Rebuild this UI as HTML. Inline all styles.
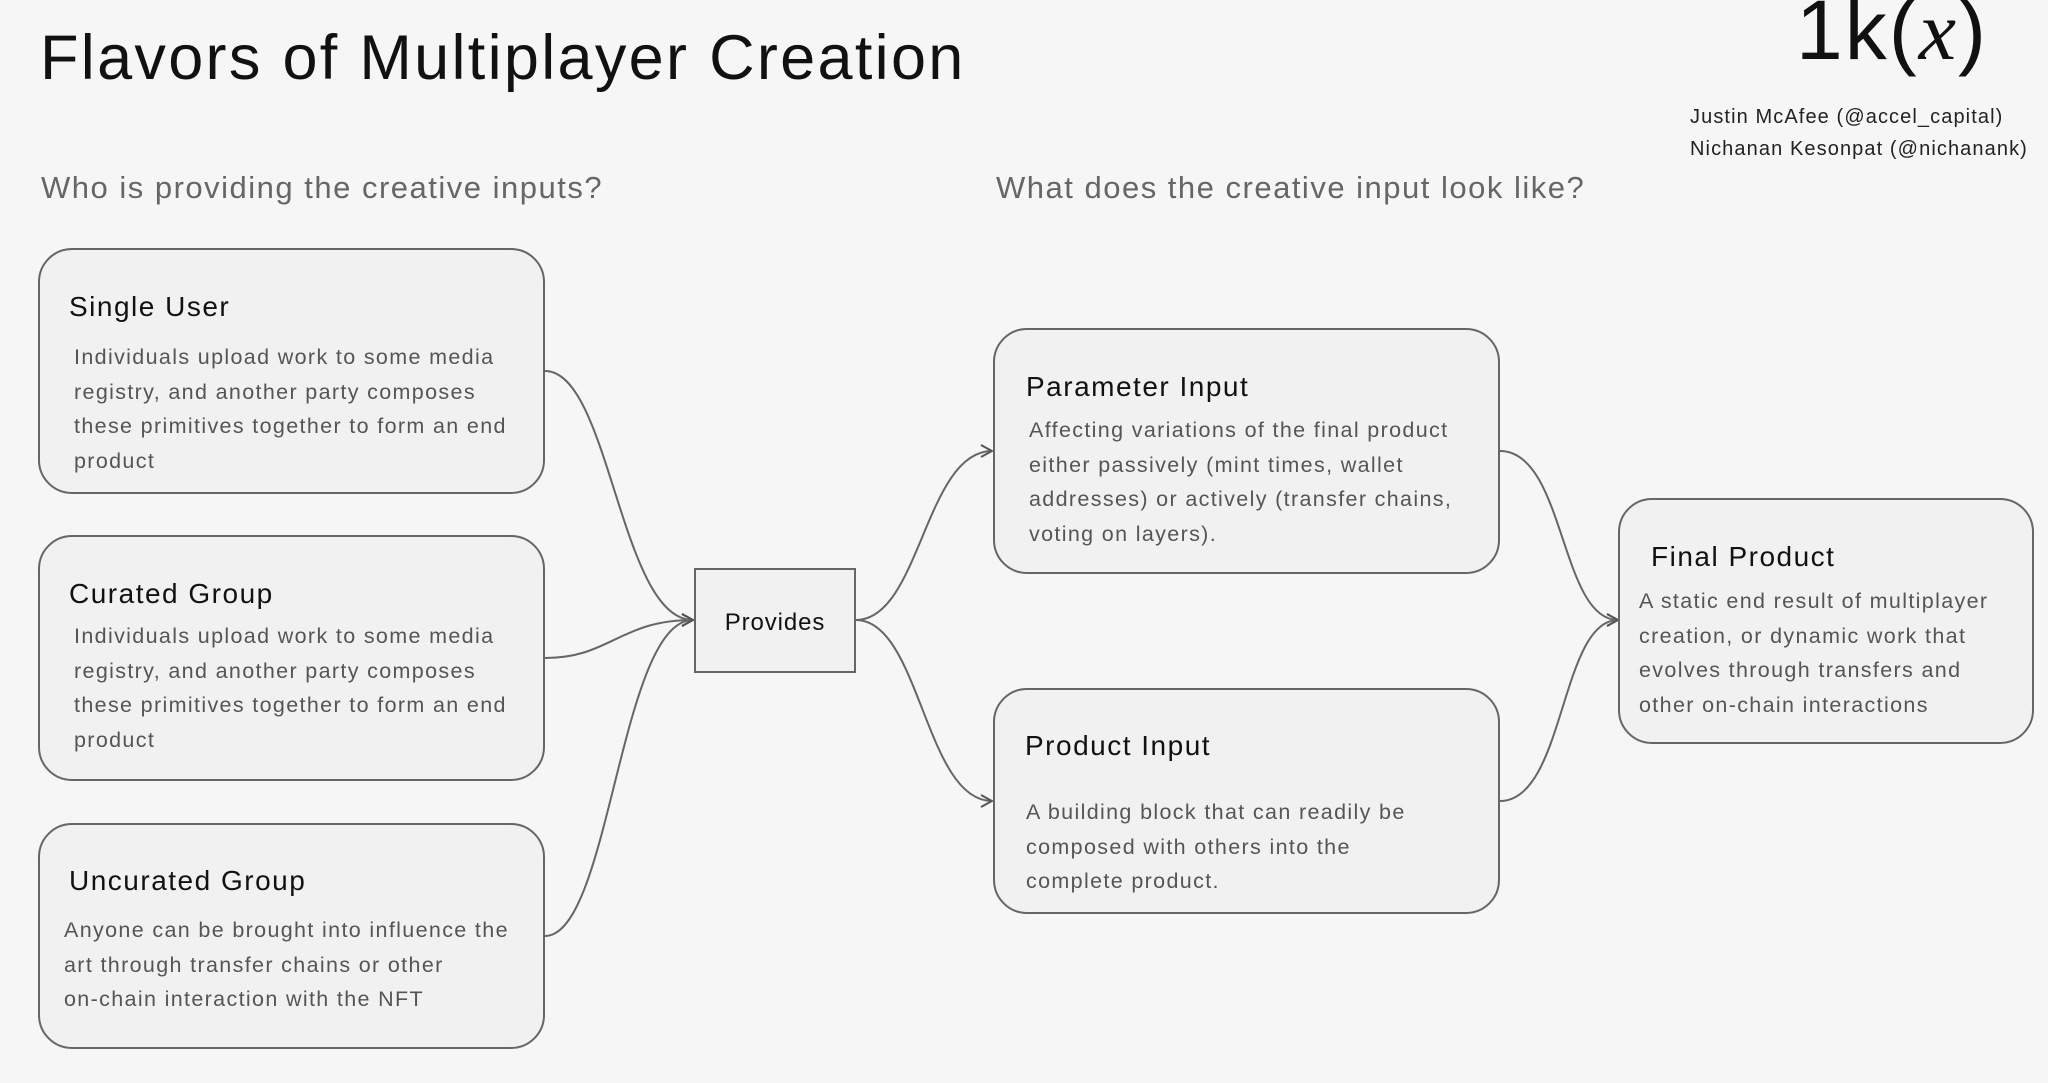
<!DOCTYPE html>
<html><head><meta charset="utf-8"><style>
html,body{margin:0;padding:0}
body{width:2048px;height:1083px;background:#f6f6f6;position:relative;overflow:hidden;font-family:"Liberation Sans",sans-serif;color:#111}
.t{position:absolute;white-space:nowrap}
.box{position:absolute;border:2px solid #666;border-radius:34px;background:#f1f1f1;box-sizing:border-box}
.h{position:absolute;white-space:nowrap;font-size:28px;color:#111;letter-spacing:1.5px}
.b{position:absolute;white-space:nowrap;font-size:21.5px;line-height:34.6px;color:#555;letter-spacing:1.35px}
</style></head><body>
<div class="t" style="left:40px;top:22px;font-size:63px;color:#111;letter-spacing:2.3px">Flavors of Multiplayer Creation</div>
<div class="t" style="left:1796px;top:-18px;font-size:84px;color:#111;letter-spacing:2px">1k<span style="font-weight:300">(</span><span style="font-family:'Liberation Serif',serif;font-style:italic">x</span><span style="font-weight:300">)</span></div>
<div class="t" style="left:1690px;top:106px;font-size:20px;color:#222;letter-spacing:1.1px">Justin McAfee (@accel_capital)</div>
<div class="t" style="left:1690px;top:138px;font-size:20px;color:#222;letter-spacing:1.1px">Nichanan Kesonpat (@nichanank)</div>
<div class="t" style="left:41px;top:170px;font-size:31px;color:#666;letter-spacing:1.5px">Who is providing the creative inputs?</div>
<div class="t" style="left:996px;top:170px;font-size:31px;color:#666;letter-spacing:1.5px">What does the creative input look like?</div>

<svg style="position:absolute;left:0;top:0" width="2048" height="1083">
<defs><marker id="a" markerWidth="14" markerHeight="14" refX="12" refY="7" orient="auto" markerUnits="userSpaceOnUse"><path d="M1,1 L12,7 L1,13" fill="none" stroke="#555" stroke-width="2"/></marker></defs>
<g fill="none" stroke="#666" stroke-width="2">
<path d="M545,371 C610,371 620,620 693,620" marker-end="url(#a)"/>
<path d="M545,658 C610,658 620,620 693,620" marker-end="url(#a)"/>
<path d="M545,936 C610,936 620,620 693,620" marker-end="url(#a)"/>
<path d="M856,620 C920,620 925,451 992,451" marker-end="url(#a)"/>
<path d="M856,620 C920,620 925,801 992,801" marker-end="url(#a)"/>
<path d="M1500,451 C1565,451 1560,620 1618,620" marker-end="url(#a)"/>
<path d="M1500,801 C1565,801 1560,620 1618,620" marker-end="url(#a)"/>
</g></svg>

<div class="box" style="left:38px;top:248px;width:507px;height:246px"></div>
<div class="h" style="left:69px;top:291px">Single User</div>
<div class="b" style="left:74px;top:340px">Individuals upload work to some media<br>registry, and another party composes<br>these primitives together to form an end<br>product</div>

<div class="box" style="left:38px;top:535px;width:507px;height:246px"></div>
<div class="h" style="left:69px;top:578px">Curated Group</div>
<div class="b" style="left:74px;top:619px">Individuals upload work to some media<br>registry, and another party composes<br>these primitives together to form an end<br>product</div>

<div class="box" style="left:38px;top:823px;width:507px;height:226px"></div>
<div class="h" style="left:69px;top:865px">Uncurated Group</div>
<div class="b" style="left:64px;top:913px">Anyone can be brought into influence the<br>art through transfer chains or other<br>on-chain interaction with the NFT</div>

<div style="position:absolute;left:694px;top:568px;width:162px;height:105px;border:2px solid #666;box-sizing:border-box;background:#f1f1f1"></div>
<div class="t" style="left:694px;top:609px;width:162px;text-align:center;font-size:24px;letter-spacing:0.9px">Provides</div>

<div class="box" style="left:993px;top:328px;width:507px;height:246px"></div>
<div class="h" style="left:1026px;top:371px">Parameter Input</div>
<div class="b" style="left:1029px;top:413px">Affecting variations of the final product<br>either passively (mint times, wallet<br>addresses) or actively (transfer chains,<br>voting on layers).</div>

<div class="box" style="left:993px;top:688px;width:507px;height:226px"></div>
<div class="h" style="left:1025px;top:730px">Product Input</div>
<div class="b" style="left:1026px;top:795px">A building block that can readily be<br>composed with others into the<br>complete product.</div>

<div class="box" style="left:1618px;top:498px;width:416px;height:246px"></div>
<div class="h" style="left:1651px;top:541px">Final Product</div>
<div class="b" style="left:1639px;top:584px">A static end result of multiplayer<br>creation, or dynamic work that<br>evolves through transfers and<br>other on-chain interactions</div>
</body></html>
